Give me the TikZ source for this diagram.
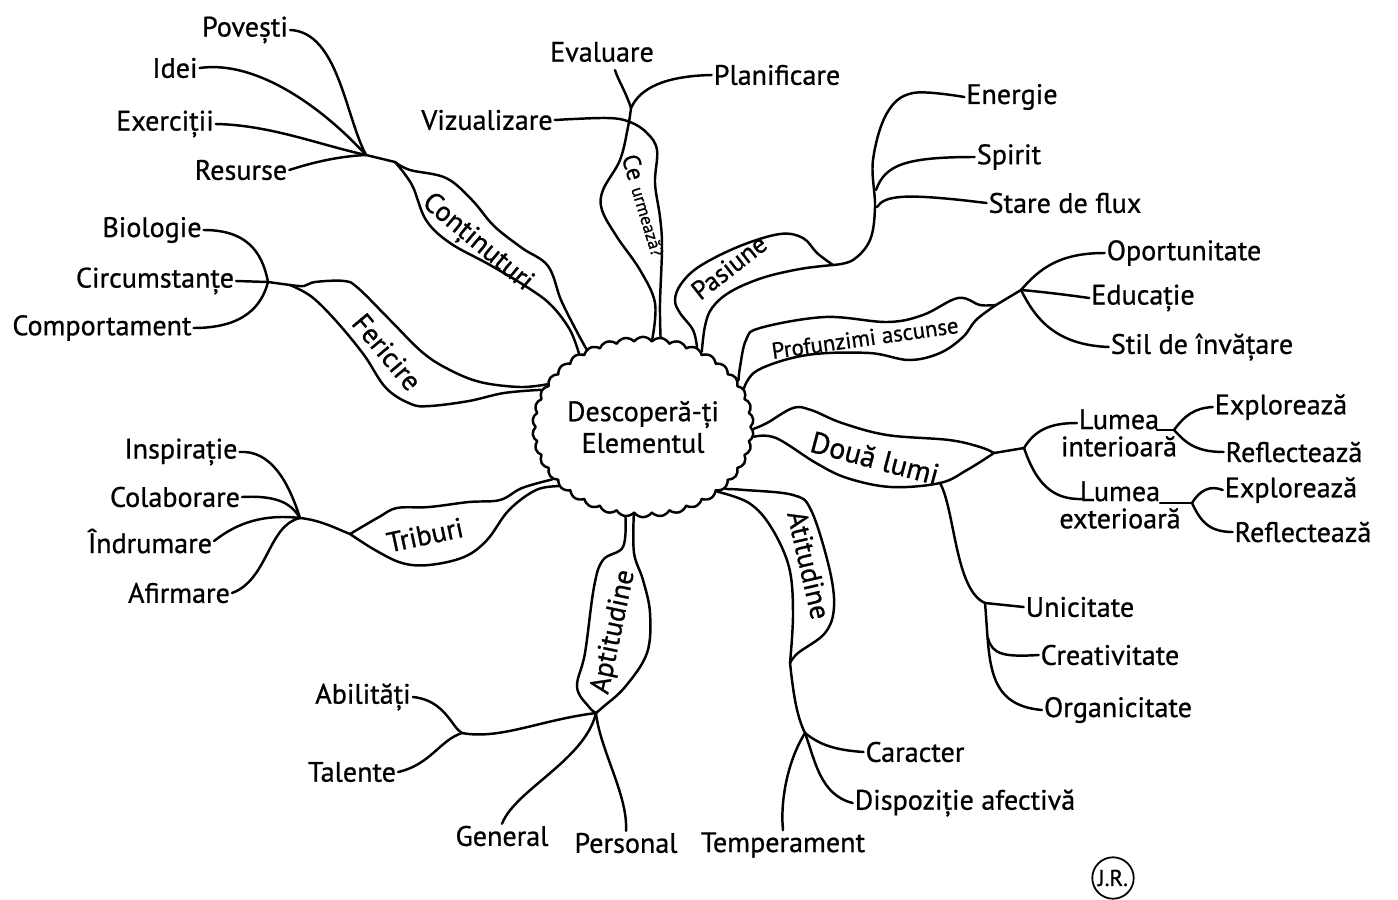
\documentclass[tikz,border=0pt]{standalone}
\usepackage{fontspec}
\setmainfont{PT Sans}[FakeBold=0.8]
\usetikzlibrary{shapes.symbols,calc}

\tikzset{
  twig/.style={line width=1.4pt,line cap=round,line join=round},
  leaf/.style={twig,smooth,tension=0.6},
  item/.style={font=\fontsize{16}{18}\selectfont,inner sep=1pt},
  tag/.style={font=\fontsize{16}{18}\selectfont,inner sep=0pt},
  world/.style={item,align=center,font=\fontsize{16}{15.5}\selectfont},
}

\begin{document}
\begin{tikzpicture}[x=0.02cm,y=-0.02cm]
    \useasboundingbox (0,0) rectangle (1398,899);
    \node[cloud,draw,twig,cloud puffs=38,cloud puff arc=110,aspect=1.25,minimum width=3.9cm,minimum height=3.1cm,align=center,item,inner sep=0pt](core) at (643,427){Descoperă-ți\\Elementul};

    % Continuturi
    \coordinate (jcont) at (366,155);
    \coordinate (tcont) at (395,162);
    \draw[leaf] plot coordinates {(tcont) (410,170) (446,178) (472,200) (494,226) (522,248) (548,266) (561,300) (576,330) (core.126)};
    \draw[leaf] plot coordinates {(tcont) (412,185) (426,220) (450,243) (490,265) (530,289) (552,306) (570,330) (core.131)};
    \node[tag,rotate=-40](lcont) at (477,243){Conținuturi};
    \node[item](povesti) at (245,30){Povești};
    \node[item](idei) at (175,68){Idei};
    \node[item](exercitii) at (165,124){Exerciții};
    \node[item](resurse) at (241,170){Resurse};
    \draw[twig](povesti.east) .. controls (338,32) and (345,115) .. (jcont);
    \draw[twig](idei.east) .. controls (255,60) and (320,105) .. (jcont);
    \draw[twig](exercitii.east) .. controls (270,125) and (320,145) .. (jcont);
    \draw[twig](resurse.east) .. controls (320,160) and (345,156) .. (jcont);
    \draw[twig](jcont) -- (tcont);

    % Fericire
    \coordinate (jfer) at (268,282);
    \coordinate (tfer) at (290,285);
    \draw[leaf] plot coordinates {(tfer) (304,286) (315,282) (344,281) (358,288) (390,320) (422,352) (448,369) (480,382) (520,387) (core.156)};
    \draw[leaf] plot coordinates {(tfer) (312,297) (337,322) (364,355) (386,388) (411,404) (430,406) (469,401) (504,393) (core.160)};
    \node[tag,rotate=-50](lfer) at (387,352){Fericire};
    \node[item](biologie) at (152,230){Biologie};
    \node[item](circumstante) at (155,281){Circumstanțe};
    \node[item](comportament) at (102,328){Comportament};
    \draw[twig](biologie.east) .. controls (245,230) and (262,250) .. (jfer);
    \draw[twig](circumstante.east) -- (jfer);
    \draw[twig](comportament.east) .. controls (245,328) and (262,305) .. (jfer);
    \draw[twig](jfer) -- (tfer);

    % Triburi
    \coordinate (jtri) at (300,518);
    \coordinate (ttri) at (350,534);
    \draw[leaf] plot coordinates {(ttri) (379,517) (397,508) (429,507) (469,502) (500,500) (522,488) (core.210)};
    \draw[leaf] plot coordinates {(ttri) (375,550) (402,563) (429,565) (464,557) (487,540) (509,510) (536,490) (core.215)};
    \node[tag,rotate=12](ltri) at (425,535){Triburi};
    \node[item](inspiratie) at (181,452){Inspirație};
    \node[item](colaborare) at (175,497){Colaborare};
    \node[item](indrumare) at (150,541){Îndrumare};
    \node[item](afirmare) at (179,593){Afirmare};
    \draw[twig](inspiratie.east) .. controls (270,450) and (288,480) .. (jtri);
    \draw[twig](colaborare.east) .. controls (280,495) and (292,505) .. (jtri);
    \draw[twig](indrumare.east) .. controls (238,522) and (265,514) .. (jtri);
    \draw[twig](afirmare.east) .. controls (268,580) and (268,525) .. (jtri);
    \draw[twig](jtri) .. controls (320,520) and (335,528) .. (ttri);

    % Aptitudine
    \coordinate (japt) at (596,713);
    \coordinate (jabi) at (462,733);
    \draw[leaf] plot coordinates {(core.259) (623,547) (603,560) (594,587) (585,653) (577,687) (589,707) (japt)};
    \draw[leaf] plot coordinates {(core.264) (634,553) (643,580) (650,613) (647,653) (625,687) (603,707) (japt)};
    \node[tag,rotate=78](lapt) at (614,632){Aptitudine};
    \node[item](abilitati) at (363,697){Abilități};
    \node[item](talente) at (352,772){Talente};
    \node[item](general) at (502,836){General};
    \node[item](personal) at (626,843){Personal};
    \draw[twig](abilitati.east) .. controls (445,700) and (452,728) .. (jabi);
    \draw[twig](talente.east) .. controls (430,765) and (440,740) .. (jabi);
    \draw[twig](jabi) .. controls (500,740) and (540,720) .. (japt);
    \draw[twig](general.north) .. controls (515,790) and (585,760) .. (japt);
    \draw[twig](personal.north) .. controls (628,795) and (600,750) .. (japt);

    % Atitudine
    \coordinate (tati) at (790,663);
    \coordinate (jati) at (805,733);
    \draw[leaf] plot coordinates {(core.323) (745,490) (793,495) (811,510) (829,567) (834,607) (825,633) (798,653) (tati)};
    \draw[leaf] plot coordinates {(core.319) (749,503) (771,527) (789,567) (793,613) (tati)};
    \node[tag,rotate=-77](lati) at (809,565){Atitudine};
    \node[item](caracter) at (915,752){Caracter};
    \node[item](dispozitie) at (965,803){Dispoziție afectivă};
    \node[item](temperament) at (783,845){Temperament};
    \draw[twig](tati) .. controls (793,690) and (796,715) .. (jati);
    \draw[twig](jati) .. controls (820,745) and (835,750) .. (caracter.west);
    \draw[twig](jati) .. controls (815,760) and (820,795) .. (dispozitie.west);
    \draw[twig](jati) .. controls (788,760) and (780,800) .. (temperament.north);

    % Doua lumi
    \coordinate (tdl) at (994,453);
    \coordinate (jdl) at (1024,448);
    \coordinate (dlbot) at (940,483);
    \draw[leaf] plot coordinates {(core.-1) (767,423) (793,408) (811,410) (842,423) (887,435) (949,440) (980,447) (tdl)};
    \draw[leaf] plot coordinates {(core.-5) (776,438) (816,463) (847,478) (891,487) (dlbot) (967,470) (tdl)};
    \node[tag,rotate=-15,font=\fontsize{17}{18}\selectfont](ldl) at (875,458){Două lumi};
    \node[world](lumint) at (1119,433){Lumea\\interioară};
    \node[world](lumext) at (1120,505){Lumea\\exterioară};
    \coordinate (lumintL) at ($(lumint.center)+(-42,-10)$);
    \coordinate (lumintR) at ($(lumint.center)+(38,-3)$);
    \coordinate (lumextL) at ($(lumext.center)+(-38,-6)$);
    \coordinate (lumextR) at ($(lumext.center)+(40,-2)$);
    \coordinate (forkint) at (1174,430);
    \coordinate (forkext) at (1192,503);
    \node[item](expl1) at (1281,407){Explorează};
    \node[item](refl1) at (1294,452){Reflectează};
    \node[item](expl2) at (1291,490){Explorează};
    \node[item](refl2) at (1303,532){Reflectează};
    \draw[twig](tdl) -- (jdl);
    \draw[twig](jdl) .. controls (1035,430) and (1050,423) .. (lumintL);
    \draw[twig](jdl) .. controls (1035,480) and (1050,500) .. (lumextL);
    \draw[twig](lumintR) -- (forkint);
    \draw[twig](forkint) .. controls (1185,415) and (1195,408) .. (expl1.west);
    \draw[twig](forkint) .. controls (1185,442) and (1195,452) .. (refl1.west);
    \draw[twig](lumextR) -- (forkext);
    \draw[twig](forkext) .. controls (1200,490) and (1210,485) .. (expl2.west);
    \draw[twig](forkext) .. controls (1200,520) and (1208,532) .. (refl2.west);
    \coordinate (jdl2) at (985,603);
    \coordinate (jcre) at (988,638);
    \node[item](unicitate) at (1080,607){Unicitate};
    \node[item](creativitate) at (1110,655){Creativitate};
    \node[item](organicitate) at (1118,710){Organicitate};
    \draw[twig](dlbot) .. controls (955,510) and (955,590) .. (jdl2);
    \draw[twig](jdl2) -- (unicitate.west);
    \draw[twig](jdl2) .. controls (990,660) and (985,705) .. (organicitate.west);
    \draw[twig](jcre) .. controls (992,655) and (1005,657) .. (creativitate.west);

    % Profunzimi ascunse
    \coordinate (tpro) at (996,305);
    \coordinate (jpro) at (1021,290);
    \draw[leaf] plot coordinates {(core.26) (740,367) (746,340) (760,328) (825,317) (887,322) (923,315) (958,298) (980,305) (tpro)};
    \draw[leaf] plot coordinates {(core.21) (758,370) (807,355) (869,353) (909,360) (940,353) (963,337) (976,320) (tpro)};
    \node[tag,rotate=8,font=\fontsize{13}{14}\selectfont](lpro) at (865,338){Profunzimi ascunse};
    \node[item](oportunitate) at (1184,253){Oportunitate};
    \node[item](educatie) at (1143,298){Educație};
    \node[item](stil) at (1202,347){Stil de învățare};
    \draw[twig](tpro) -- (jpro);
    \draw[twig](jpro) .. controls (1040,268) and (1060,253) .. (oportunitate.west);
    \draw[twig](jpro) .. controls (1045,292) and (1075,296) .. (educatie.west);
    \draw[twig](jpro) .. controls (1035,318) and (1055,345) .. (stil.west);

    % Pasiune
    \coordinate (tpas) at (833,265);
    \coordinate (jspi) at (876,190);
    \coordinate (jsta) at (877,207);
    \draw[leaf] plot coordinates {(core.56) (693,330) (680,313) (675,300) (681,284) (700,266) (740,246) (780,234) (803,238) (817,253) (tpas)};
    \draw[leaf] plot coordinates {(core.52) (705,326) (712,308) (730,292) (762,278) (800,269) (tpas)};
    \node[tag,rotate=38,font=\fontsize{15}{16}\selectfont](lpas) at (729,267){Pasiune};
    \node[item](energie) at (1012,97){Energie};
    \node[item](spirit) at (1009,157){Spirit};
    \node[item](stare) at (1065,203){Stare de flux};
    \draw[leaf] plot coordinates {(tpas) (853,260) (870,240) (875,207) (873,160) (887,113) (913,93) (energie.west)};
    \draw[twig](jspi) .. controls (885,165) and (905,157) .. (spirit.west);
    \draw[twig](jsta) .. controls (885,195) and (905,193) .. (stare.west);

    % Ce urmeaza?
    \coordinate (tce) at (631,108);
    \node[item](evaluare) at (602,52){Evaluare};
    \node[item](planificare) at (777,75){Planificare};
    \node[item](vizualizare) at (487,120){Vizualizare};
    \coordinate (evalE) at ($(evaluare.south)+(13,6)$);
    \draw[leaf] plot coordinates {(core.84) (655,303) (640,270) (617,237) (602,210) (603,190) (620,160) (628,127) (tce)};
    \draw[leaf] plot coordinates {(core.79) (660,303) (662,247) (660,217) (655,183) (657,150) (647,133) (630,122) (607,118) (vizualizare.east)};
    \node[tag,rotate=-73](lce) at (645,205){{\fontsize{14}{14}\selectfont Ce} {\fontsize{10}{10}\selectfont urmează?}};
    \draw[twig](tce) .. controls (625,90) and (618,80) .. (evalE);
    \draw[twig](tce) .. controls (640,88) and (665,76) .. (planificare.west);

    \node[circle,draw,line width=1pt,inner sep=1.5pt,font=\fontsize{13}{13}\selectfont](jr) at (1113,878){J.R.};
\end{tikzpicture}
\end{document}
